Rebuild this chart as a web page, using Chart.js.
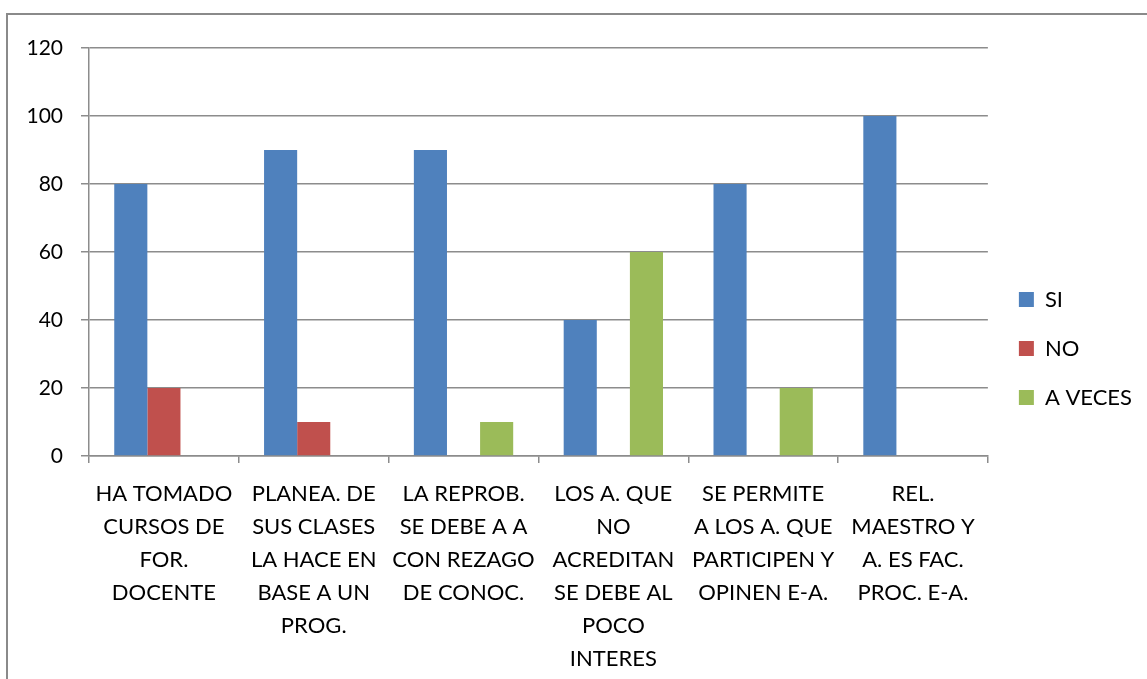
<!DOCTYPE html>
<html>
<head>
<meta charset="utf-8">
<script src="https://cdn.jsdelivr.net/npm/chart.js@4/dist/chart.umd.min.js"></script>
<style>
  html, body { margin: 0; padding: 0; background: #fff; overflow: hidden; }
  #frame {
    position: absolute; left: 6px; top: 13px;
    width: 1150px; height: 666px;
    border: 2px solid #8a8a8a;
  }
  canvas { display: block; }
</style>
</head>
<body>
<div id="frame"><canvas id="chart" width="1150" height="666"></canvas></div>
<script>
const categories = [
  ['HA TOMADO', 'CURSOS DE', 'FOR.', 'DOCENTE'],
  ['PLANEA. DE', 'SUS CLASES', 'LA HACE EN', 'BASE A UN', 'PROG.'],
  ['LA REPROB.', 'SE DEBE A A', 'CON REZAGO', 'DE CONOC.'],
  ['LOS A. QUE', 'NO', 'ACREDITAN', 'SE DEBE AL', 'POCO', 'INTERES'],
  ['SE PERMITE', 'A LOS A. QUE', 'PARTICIPEN Y', 'OPINEN E-A.'],
  ['REL.', 'MAESTRO Y', 'A. ES FAC.', 'PROC. E-A.']
];
const siValues = [80, 90, 90, 40, 80, 100];
const noValues = [20, 10, 0, 0, 0, 0];
const aVecesValues = [0, 0, 10, 60, 20, 0];
const yTicks = [0, 20, 40, 60, 80, 100, 120];

const FONT = 'Lato, "Open Sans", sans-serif';
const GRID = '#8c8c8c';

// nudge the legend: a bit more room from the plot, centred on the frame
const legendShift = {
  id: 'legendShift',
  afterLayout(chart) {
    const l = chart.legend;
    l.left += 4; l.right += 4;
    l.top -= 16; l.bottom -= 16;
  }
};

const ctx = document.getElementById('chart').getContext('2d');
new Chart(ctx, {
  type: 'bar',
  data: {
    labels: categories,
    datasets: [
      { label: 'SI', data: siValues, backgroundColor: '#4F81BD' },
      { label: 'NO', data: noValues, backgroundColor: '#C0504D' },
      { label: 'A VECES', data: aVecesValues, backgroundColor: '#9BBB59' }
    ]
  },
  plugins: [legendShift],
  options: {
    responsive: false,
    animation: false,
    layout: { padding: { top: 33, right: 20, bottom: 0, left: 0 } },
    datasets: {
      bar: { barPercentage: 1, categoryPercentage: 0.663, borderWidth: 0 }
    },
    plugins: {
      tooltip: { enabled: false },
      legend: {
        position: 'right',
        labels: {
          color: '#000',
          font: { family: FONT, size: 22 },
          boxWidth: 15,
          boxHeight: 15,
          padding: 27
        }
      }
    },
    scales: {
      x: {
        afterFit: (axis) => { axis.height = 225; },
        grid: {
          offset: true,
          drawOnChartArea: false,
          drawTicks: true,
          tickLength: 7,
          color: GRID,
          lineWidth: 1.5
        },
        border: { color: GRID, width: 1.5 },
        ticks: {
          color: '#000',
          maxRotation: 0,
          autoSkip: false,
          padding: 14,
          font: { family: FONT, size: 22, lineHeight: 1.5 }
        }
      },
      y: {
        min: 0,
        max: 120,
        afterBuildTicks: (axis) => { axis.ticks = yTicks.map(v => ({ value: v })); },
        afterFit: (axis) => { axis.width = 81; },
        grid: { color: GRID, lineWidth: 1.5, tickLength: 8 },
        border: { color: GRID, width: 1.5 },
        ticks: {
          color: '#000',
          padding: 18,
          font: { family: FONT, size: 21 }
        }
      }
    }
  }
});
</script>
</body>
</html>
